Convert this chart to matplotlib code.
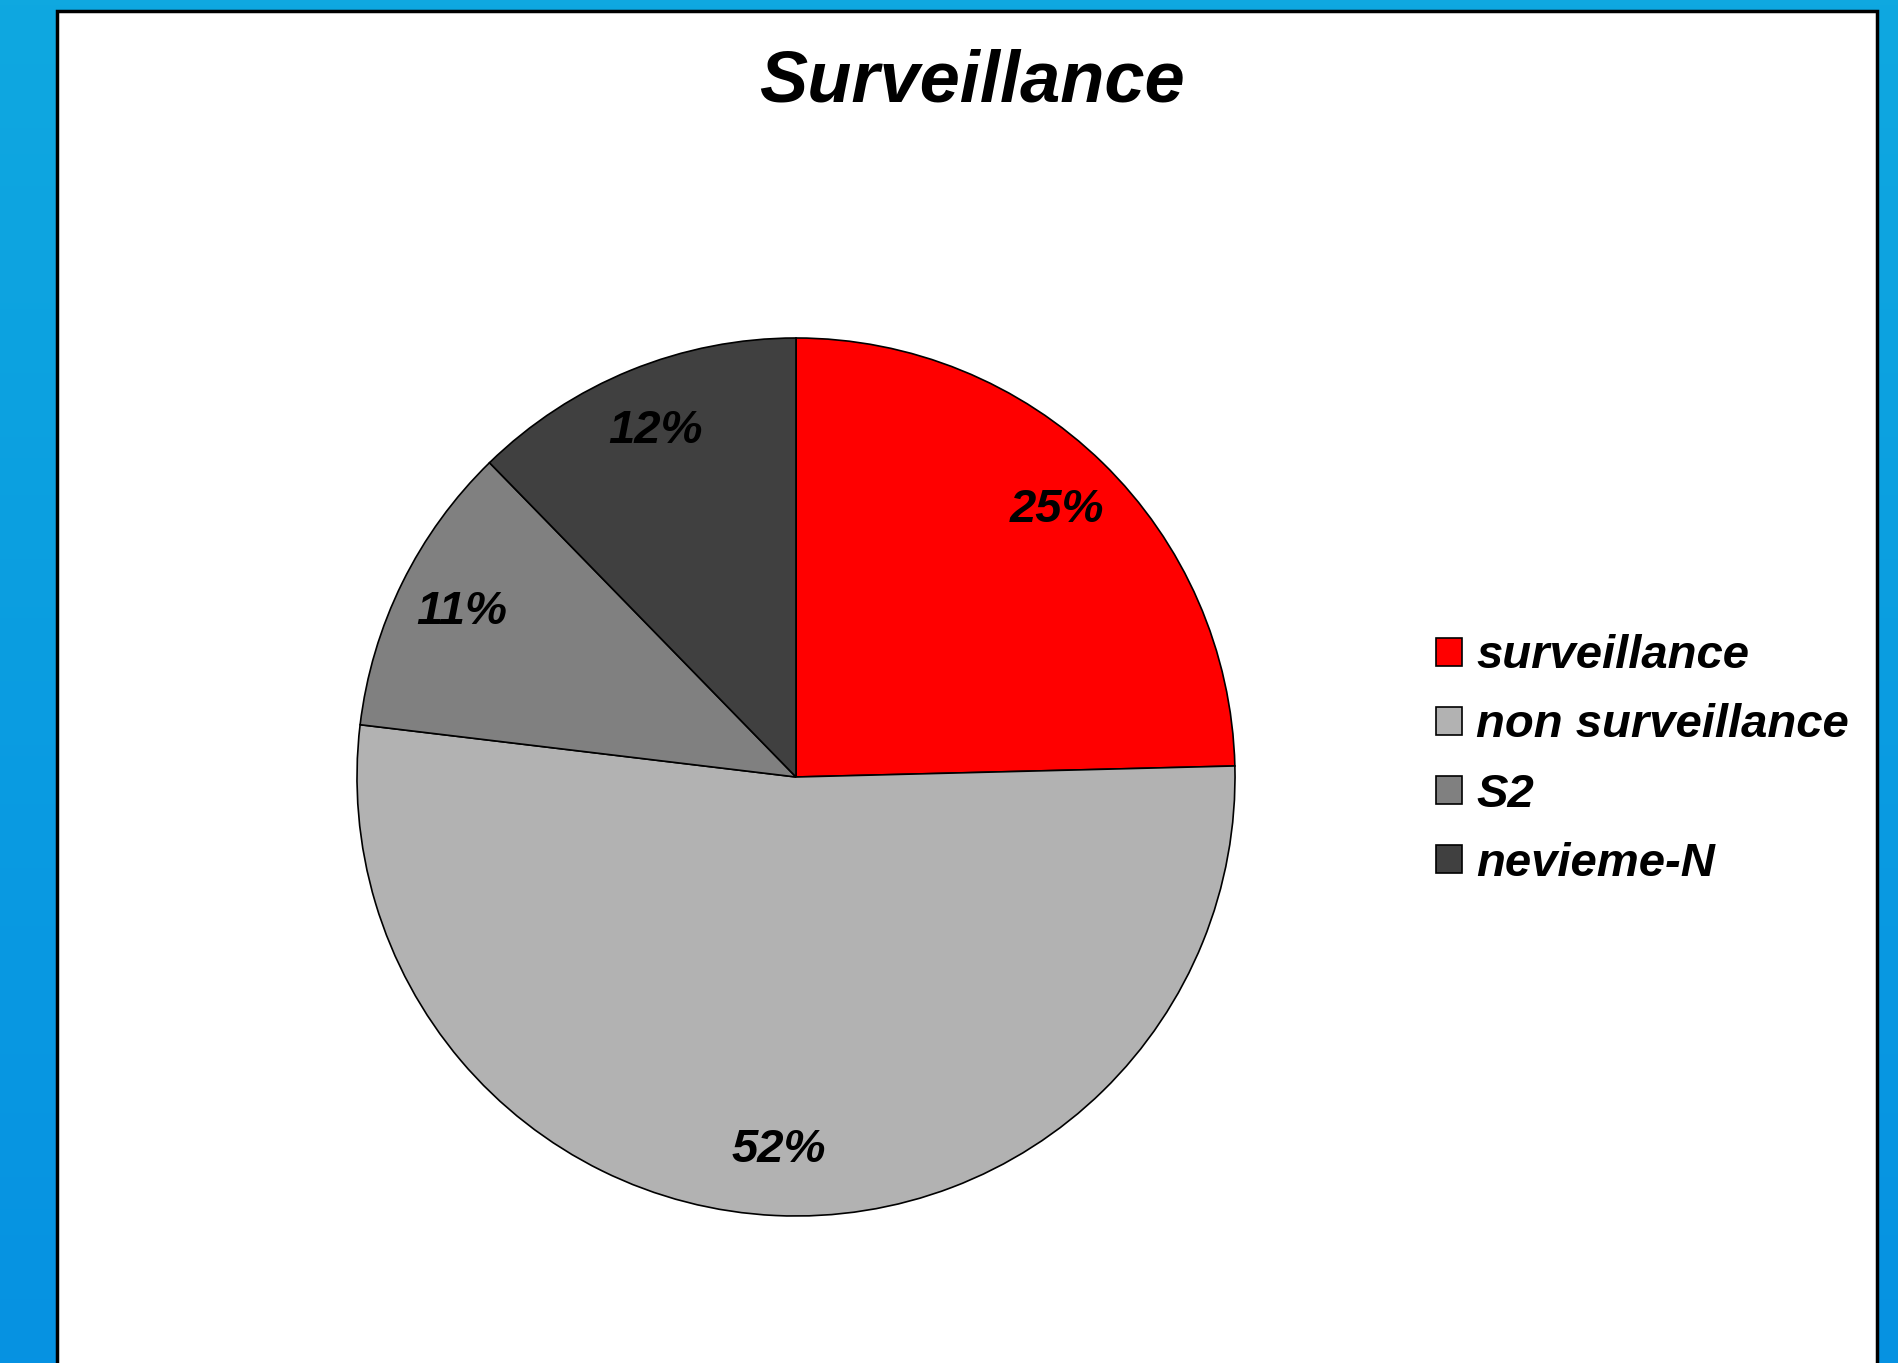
import numpy as np
import matplotlib
matplotlib.use("Agg")
from matplotlib import pyplot as plt
from matplotlib.patches import Rectangle

plt.rcParams['font.family'] = ['Liberation Sans', 'DejaVu Sans']

# data
labels = ['surveillance', 'non surveillance', 'S2', 'nevieme-N']
shares = [24.6, 52.3, 10.8, 12.3]
colors = ['#FF0000', '#B2B2B2', '#808080', '#404040']
title = 'Surveillance'

W, H = 1898, 1363
fig = plt.figure(figsize=(W / 100, H / 100), dpi=100)

# blue gradient background
bg = fig.add_axes([0, 0, 1, 1])
top = np.array([15, 168, 224]) / 255
bot = np.array([6, 146, 226]) / 255
t = np.linspace(0, 1, 256)[:, None]
grad = (top * (1 - t) + bot * t)[:, None, :]
bg.imshow(grad, aspect='auto', extent=[0, 1, 0, 1])
bg.set_xlim(0, 1)
bg.set_ylim(0, 1)
bg.axis('off')

# white panel with black frame
bg.add_patch(Rectangle((57 / W, -0.05), (1877 - 57) / W, 1.05 - 11 / H,
                       facecolor='white', edgecolor='black', lw=2.5,
                       transform=bg.transAxes, zorder=2))

fig.text(972 / W, 1 - 82 / H, title, ha='center', va='center',
         fontsize=52, fontweight='bold', fontstyle='italic')

cx, cy, r = 796, 777, 439
ax = fig.add_axes([(cx - r) / W, (H - cy - r) / H, 2 * r / W, 2 * r / H])
wedges, texts, autotexts = ax.pie(
    shares, colors=colors, startangle=90, counterclock=False,
    autopct='%.0f%%', pctdistance=0.85,
    wedgeprops={'edgecolor': 'black', 'linewidth': 1.2},
    textprops={'fontsize': 34, 'fontweight': 'bold', 'fontstyle': 'italic',
               'color': 'black'})
ax.set_xlim(-1, 1)
ax.set_ylim(-1, 1)
ax.set_aspect('equal')
ax.axis('off')

leg = fig.legend(wedges, labels, loc='center left',
                 bbox_to_anchor=(1436 / W, 1 - 760 / H),
                 frameon=False, borderpad=0, borderaxespad=0,
                 handlelength=0.55, handleheight=0.55, handletextpad=0.3,
                 labelspacing=0.53,
                 prop={'size': 34, 'weight': 'bold', 'style': 'italic'})
for h in leg.legend_handles:
    h.set_linewidth(1.2)

fig.savefig('out.png', dpi=100)
